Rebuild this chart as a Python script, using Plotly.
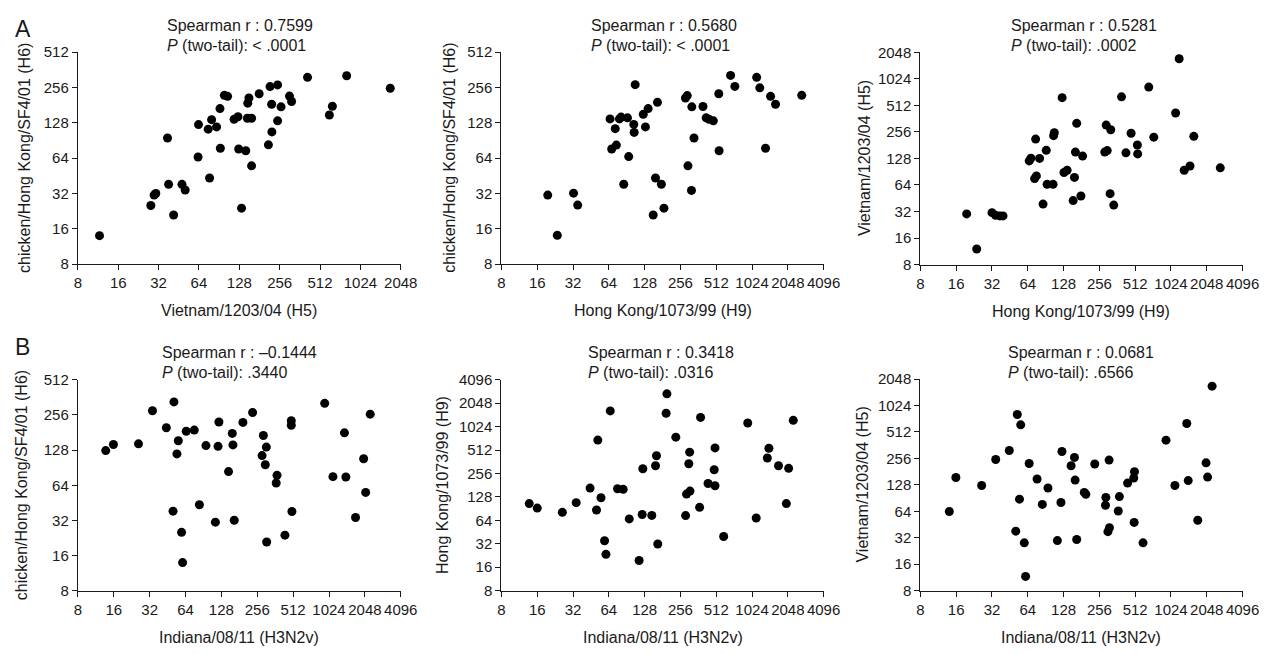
import plotly.graph_objects as go
import math

# page is 1284x654; the default 8px body margin surrounds the figure
PAGE_W, PAGE_H, OFF = 1284, 654, 8
W, H = PAGE_W - 2 * OFF, PAGE_H - 2 * OFF

# ---------- Data ----------
# Panel A-1: x = Vietnam/1203/04 (H5), y = chicken/Hong Kong/SF4/01 (H6)
a1_x = [11.6, 28, 29.6, 30.5, 41.4, 38, 37.3, 47.8, 50.5, 63, 63.5, 75, 76.8, 79.5, 86.6, 91.8,
        92.4, 99, 104.6, 117, 125, 126.6, 133, 143, 147, 158, 148, 151, 158, 180, 211, 217, 223,
        224, 247, 247, 262, 303, 314, 413, 601, 633, 809, 1710]
a1_y = [14.0, 25.3, 31, 32, 21, 38.3, 95, 38.3, 34.3, 65.5, 123.6, 113, 43.4, 136, 118, 169,
        77.7, 219, 215, 137, 144, 76.6, 24, 74, 140, 140, 188, 208, 55, 226, 83, 260, 184,
        107, 269, 133, 175, 216, 194, 312, 149, 177, 322, 252]

# Panel A-2: x = Hong Kong/1073/99 (H9), y = chicken/Hong Kong/SF4/01 (H6)
a2_x = [19.6, 23.6, 32.3, 35, 65.5, 67.6, 72.4, 74, 78.6, 81, 85.4, 91.8, 94, 103.7, 104.5,
        106.6, 130, 124.6, 137, 151, 158, 164, 177, 186, 282, 292, 296, 317, 319, 333, 396,
        421, 445, 484, 538, 541, 676, 734, 1120, 1190, 1330, 1466, 1614, 2680]
a2_y = [31, 14.1, 32.2, 25.5, 138, 76.6, 114, 82.6, 138, 143, 38.4, 141, 66, 124, 106,
        270, 118, 151, 169, 21, 43.4, 191, 38.4, 24, 208, 218, 55, 34, 175, 95, 176,
        141, 137, 133, 226, 74, 324, 261, 312, 254, 77.7, 215, 184, 219]

# Panel A-3: x = Hong Kong/1073/99 (H9), y = Vietnam/1203/04 (H5)
a3_x = [19.6, 23.8, 32, 34.3, 37.3, 39.6, 65.8, 68, 73, 75.6, 74.5, 80.4, 86, 91.5, 93, 104.4,
        105.5, 107, 124.5, 129, 137, 154, 158, 161, 165, 179, 185, 284, 298, 292, 319, 315,
        338, 393, 428, 473, 534, 537, 666, 734, 1120, 1200, 1323, 1480, 1594, 2660]
a3_y = [30, 12, 31, 29, 28.5, 28.5, 120, 129, 75.6, 81, 212, 128, 38.8, 158, 65, 65,
        232, 251, 626, 88.6, 94, 42.5, 78, 151, 320, 48, 136, 151, 157, 306, 271, 51,
        37.8, 640, 148, 247, 182, 144, 826, 223, 419, 1730, 94, 105, 228, 100]

# Panel B-1: x = Indiana/08/11 (H3N2v), y = chicken/Hong Kong/SF4/01 (H6)
b1_x = [13.7, 15.9, 25.8, 33.8, 44.2, 50.3, 51.2, 54.2, 55.7, 59.3, 60.5, 64.9, 75.8, 83.7, 95,
        114, 120, 122, 147, 158, 160, 164, 194, 234, 288, 281, 305, 299, 307, 375, 369, 437,
        494, 494, 500, 942, 1105, 1380, 1418, 1710, 2000, 2080, 2270]
b1_y = [127, 143, 145, 278, 199, 38.5, 331, 119, 154, 25.4, 14, 186, 190, 43.7, 140,
        31, 138, 223, 84, 178, 142, 32.2, 221, 269, 171, 115, 136, 96, 21, 78, 67, 24,
        229, 209, 38.3, 322, 76, 180, 75.4, 34, 108, 55.7, 260]

# Panel B-2: x = Indiana/08/11 (H3N2v), y = Hong Kong/1073/99 (H9)
b2_x = [13.7, 16, 26, 34, 44.5, 50.4, 51.7, 55, 58.9, 60.5, 65.8, 75.7, 84.5, 95, 115, 122,
        123.6, 147, 158, 161, 165, 194, 197, 234, 283, 288, 308, 301, 306, 371, 378, 437, 500,
        500, 492, 591, 942, 1110, 1420, 1377, 1710, 2080, 1990, 2275]
b2_y = [105, 92, 81, 108, 166, 87, 687, 125, 35, 23.4, 1630, 163, 160, 66.7, 19.5, 76,
        294, 74, 322, 433, 31.8, 1520, 2700, 750, 73.6, 139, 152, 341, 481, 94, 1345, 190, 178,
        545, 286, 39.6, 1140, 68.6, 540, 405, 322, 298, 105, 1234]

# Panel B-3: x = Indiana/08/11 (H3N2v), y = Vietnam/1203/04 (H5)
b3_x = [14, 15.9, 26.2, 34.4, 44.7, 50.7, 52.2, 54.5, 55.8, 59.8, 61.3, 65.7, 76.6, 84.8, 94.6,
        113.5, 121.6, 124, 148, 158, 160, 165, 191, 197, 234, 288, 290, 309, 302, 311, 369,
        377, 442, 498, 505, 502, 596, 930, 1105, 1390, 1430, 1720, 2020, 2080, 2270]
b3_y = [63.6, 155, 126, 249, 315, 38, 810, 88, 617, 28, 11.6, 224, 149, 76.7, 118,
        29.7, 80.6, 307, 211, 263, 145, 30.5, 105, 100, 221, 75, 92, 245, 37.5, 41.6, 64.4,
        94, 134, 153, 181, 47.8, 28, 413, 126, 640, 143, 50.6, 228, 157, 1700]

ticks_8_512 = [8, 16, 32, 64, 128, 256, 512]
ticks_8_2048 = [8, 16, 32, 64, 128, 256, 512, 1024, 2048]
ticks_8_4096 = [8, 16, 32, 64, 128, 256, 512, 1024, 2048, 4096]

x_titles = ["Vietnam/1203/04 (H5)", "Hong Kong/1073/99 (H9)", "Hong Kong/1073/99 (H9)",
            "Indiana/08/11 (H3N2v)", "Indiana/08/11 (H3N2v)", "Indiana/08/11 (H3N2v)"]
y_titles = ["chicken/Hong Kong/SF4/01 (H6)", "chicken/Hong Kong/SF4/01 (H6)", "Vietnam/1203/04 (H5)",
            "chicken/Hong Kong/SF4/01 (H6)", "Hong Kong/1073/99 (H9)", "Vietnam/1203/04 (H5)"]
r_texts = ["0.7599", "0.5680", "0.5281", "\u20130.1444", "0.3418", "0.0681"]
p_texts = ["< .0001", "< .0001", ".0002", ".3440", ".0316", ".6566"]

# ---------- Layout geometry (page pixels) ----------
FONT = "Liberation Sans, Arial, Helvetica, sans-serif"
INK = "#1a1a1a"
panels = [
    dict(xs=(75, 403.3), ys=(44, 262), xt=ticks_8_2048, yt=ticks_8_512, ytx=20, tx=164, ty=17),
    dict(xs=(505.7, 833.3), ys=(44, 262), xt=ticks_8_4096, yt=ticks_8_512, ytx=453, tx=595, ty=17),
    dict(xs=(931.7, 1259.3), ys=(44.3, 262.3), xt=ticks_8_4096, yt=ticks_8_2048, ytx=875, tx=1021.5, ty=17),
    dict(xs=(75, 403.3), ys=(380.7, 597.7), xt=ticks_8_4096, yt=ticks_8_512, ytx=18, tx=159, ty=353),
    dict(xs=(505.7, 833.3), ys=(380.7, 597.3), xt=ticks_8_4096, yt=ticks_8_4096, ytx=445, tx=592, ty=353),
    dict(xs=(931.7, 1259.3), ys=(380, 597.3), xt=ticks_8_4096, yt=ticks_8_2048, ytx=873, tx=1019, ty=353),
]
data = [(a1_x, a1_y), (a2_x, a2_y), (a3_x, a3_y), (b1_x, b1_y), (b2_x, b2_y), (b3_x, b3_y)]


def px(x):
    return (x - OFF) / W


def py(y):
    return 1 - (y - OFF) / H


fig = go.Figure()
annotations = []
layout_axes = {}
for i, (p, (xv, yv)) in enumerate(zip(panels, data)):
    n = i + 1
    xa = "x" if n == 1 else f"x{n}"
    ya = "y" if n == 1 else f"y{n}"
    xkey = "xaxis" if n == 1 else f"xaxis{n}"
    ykey = "yaxis" if n == 1 else f"yaxis{n}"
    fig.add_trace(go.Scatter(
        x=xv, y=yv, mode="markers", xaxis=xa, yaxis=ya,
        marker=dict(color="black", size=9, line=dict(width=0)),
        cliponaxis=False, showlegend=False, hoverinfo="x+y"))
    common = dict(type="log", showline=True, linecolor=INK, linewidth=1.3,
                  ticks="outside", ticklen=5, tickwidth=1.3, tickcolor=INK,
                  showgrid=False, zeroline=False, tickangle=0,
                  tickfont=dict(family=FONT, size=15, color=INK))
    layout_axes[xkey] = dict(common, domain=[px(p["xs"][0]), px(p["xs"][1])],
                             anchor=ya,
                             range=[math.log10(p["xt"][0]), math.log10(p["xt"][-1])],
                             tickvals=p["xt"], ticktext=[str(t) for t in p["xt"]])
    layout_axes[ykey] = dict(common, domain=[py(p["ys"][1]), py(p["ys"][0])],
                             anchor=xa,
                             range=[math.log10(p["yt"][0]), math.log10(p["yt"][-1])],
                             tickvals=p["yt"], ticktext=[str(t) for t in p["yt"]])
    xc = (p["xs"][0] + p["xs"][1]) / 2
    yc = (p["ys"][0] + p["ys"][1]) / 2
    annotations.append(dict(text=x_titles[i], x=px(xc), y=py(p["ys"][1] + 48),
                            xref="paper", yref="paper", showarrow=False,
                            xanchor="center", yanchor="middle",
                            font=dict(family=FONT, size=16, color=INK)))
    annotations.append(dict(text=y_titles[i], x=px(p["ytx"]), y=py(yc),
                            xref="paper", yref="paper", showarrow=False, textangle=-90,
                            xanchor="center", yanchor="middle",
                            font=dict(family=FONT, size=16, color=INK)))
    annotations.append(dict(text="Spearman r : " + r_texts[i], x=px(p["tx"]), y=py(p["ty"]),
                            xref="paper", yref="paper", showarrow=False,
                            xanchor="left", yanchor="middle",
                            font=dict(family=FONT, size=16, color=INK)))
    annotations.append(dict(text="<i>P</i> (two-tail): " + p_texts[i], x=px(p["tx"]),
                            y=py(p["ty"] + 20),
                            xref="paper", yref="paper", showarrow=False,
                            xanchor="left", yanchor="middle",
                            font=dict(family=FONT, size=16, color=INK)))

annotations.append(dict(text="A", x=px(19), y=py(20), xref="paper", yref="paper",
                        showarrow=False, xanchor="center", yanchor="middle",
                        font=dict(family=FONT, size=23, color=INK)))
annotations.append(dict(text="B", x=px(19), y=py(347), xref="paper", yref="paper",
                        showarrow=False, xanchor="center", yanchor="middle",
                        font=dict(family=FONT, size=23, color=INK)))

fig.update_layout(width=W, height=H, margin=dict(l=0, r=0, t=0, b=0),
                  paper_bgcolor="white", plot_bgcolor="white",
                  annotations=annotations, showlegend=False, **layout_axes)

fig.write_html("out.html", config={"displayModeBar": False})
